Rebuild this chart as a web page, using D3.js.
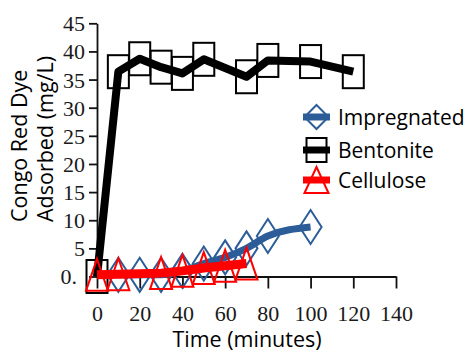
<!DOCTYPE html>
<html><head><meta charset="utf-8">
<script src="https://cdn.jsdelivr.net/npm/d3@7"></script>
<style>
html,body{margin:0;padding:0;background:#fff;}
svg{display:block;}
</style></head>
<body>
<svg id="chart" width="466" height="354"></svg>
<script>
// ---- data ----
const xTicks = [0, 20, 40, 60, 80, 100, 120, 140];
const yTicks = [0, 5, 10, 15, 20, 25, 30, 35, 40, 45];
const bentoniteTime = [0, 10, 20, 30, 40, 50, 70, 80, 100, 120];
const bentoniteValue = [0, 36.4, 38.7, 37.2, 36.1, 38.6, 35.5, 38.4, 38.2, 36.4];
const impregnatedTime = [10, 20, 30, 40, 50, 60, 70, 80, 100];
const impregnatedValue = [0.3, 0.3, 0.3, 1.0, 2.3, 3.4, 5.0, 7.2, 8.8];
const celluloseTime = [0, 10, 30, 40, 50, 60, 70];
const celluloseValue = [0.3, 0.4, 0.6, 1.0, 1.5, 1.9, 2.3];
const seriesNames = ["Impregnated", "Bentonite", "Cellulose"];
const xTitle = "Time (minutes)";
const yTitle = ["Congo Red Dye", "Adsorbed (mg/L)"];

const BLUE = "#2c5d98", RED = "#ff0000", BLACK = "#000000";
const svg = d3.select("#chart");
const x = d3.scaleLinear().domain([0, 140]).range([97, 396]);
const y = d3.scaleLinear().domain([0, 45]).range([276.5, 23.3]);

// axes
const xAxis = svg.append("g").attr("transform", `translate(0,${y(0)})`)
  .call(d3.axisBottom(x).tickValues(xTicks).tickSize(12).tickSizeOuter(0).tickPadding(4));
const yAxis = svg.append("g").attr("transform", `translate(${x(0)},0)`)
  .call(d3.axisLeft(y).tickValues(yTicks).tickSize(8).tickSizeOuter(0).tickPadding(4)
    .tickFormat(d => d === 0 ? "0." : d));
[xAxis, yAxis].forEach(g => {
  g.selectAll("path,line").attr("stroke", "#111").attr("stroke-width", 1.8);
  g.selectAll("text").attr("font-family", "'Liberation Serif', 'Times New Roman', serif")
    .attr("font-size", 22).attr("fill", "#1a1a1a");
});
xAxis.selectAll("text").attr("y", 0).attr("dy", 0).attr("transform", "translate(0,44)");
yAxis.selectAll("text").attr("dy", "0.34em");
yAxis.selectAll(".tick").filter(d => d === 0).select("text").attr("x", -20);

const titleFont = "'Open Sans', 'Noto Sans', sans-serif";
// titles
svg.append("text").attr("x", 247).attr("y", 347).attr("text-anchor", "middle")
  .attr("font-family", titleFont).attr("font-size", 21.5).attr("font-weight", 500)
  .attr("fill", "#000").text(xTitle);
yTitle.forEach((t, i) => {
  svg.append("text").attr("transform", `translate(${27 + i * 26},222) rotate(-90)`)
    .attr("text-anchor", "start").attr("font-family", titleFont).attr("font-size", 21.5)
    .attr("font-weight", 500).attr("fill", "#000").text(t);
});

// markers
function square(g, cx, cy, color) {
  g.append("rect").attr("x", cx - 10.5).attr("y", cy - 16.5).attr("width", 21).attr("height", 33)
    .attr("fill", "none").attr("stroke", color).attr("stroke-width", 2);
}
function diamond(g, cx, cy, color) {
  g.append("path").attr("d", `M${cx},${cy - 17}L${cx + 11},${cy}L${cx},${cy + 17}L${cx - 11},${cy}Z`)
    .attr("fill", "none").attr("stroke", color).attr("stroke-width", 2);
}
function triangle(g, cx, cy, color) {
  g.append("path").attr("d", `M${cx},${cy - 16}L${cx + 11},${cy + 16}L${cx - 11},${cy + 16}Z`)
    .attr("fill", "none").attr("stroke", color).attr("stroke-width", 2);
}

function drawSeries(times, values, color, width, marker, curve) {
  const g = svg.append("g");
  const pts = times.map((t, i) => [t, values[i]]);
  g.append("path").datum(pts)
    .attr("d", d3.line().x(d => x(d[0])).y(d => y(d[1])).curve(curve))
    .attr("fill", "none").attr("stroke", color).attr("stroke-width", width)
    .attr("stroke-linejoin", "round");
  pts.forEach(p => marker(g, x(p[0]), y(p[1]), color));
}
drawSeries(bentoniteTime, bentoniteValue, BLACK, 8, square, d3.curveLinear);
drawSeries(impregnatedTime, impregnatedValue, BLUE, 7, diamond, d3.curveMonotoneX);
drawSeries(celluloseTime, celluloseValue, RED, 9, triangle, d3.curveLinear);

// legend
const legend = svg.append("g");
const legendRows = [
  {name: seriesNames[0], color: BLUE, y: 117, type: "diamond"},
  {name: seriesNames[1], color: BLACK, y: 150, type: "square"},
  {name: seriesNames[2], color: RED, y: 180, type: "triangle"}
];
legendRows.forEach(r => {
  const cx = 316.5;
  legend.append("line").attr("x1", 303).attr("x2", 330).attr("y1", r.y).attr("y2", r.y)
    .attr("stroke", r.color).attr("stroke-width", 7);
  if (r.type === "diamond") {
    legend.append("path").attr("d", `M${cx},${r.y - 12}L${cx + 12},${r.y}L${cx},${r.y + 12}L${cx - 12},${r.y}Z`)
      .attr("fill", "none").attr("stroke", r.color).attr("stroke-width", 2);
  } else if (r.type === "square") {
    legend.append("rect").attr("x", cx - 10).attr("y", r.y - 12).attr("width", 20).attr("height", 24)
      .attr("fill", "none").attr("stroke", r.color).attr("stroke-width", 2);
  } else {
    legend.append("path").attr("d", `M${cx},${r.y - 13}L${cx + 12},${r.y + 13}L${cx - 12},${r.y + 13}Z`)
      .attr("fill", "none").attr("stroke", r.color).attr("stroke-width", 2);
  }
  legend.append("text").attr("x", 338).attr("y", r.y).attr("dy", "0.36em")
    .attr("font-family", titleFont).attr("font-size", 21).attr("font-weight", 500)
    .attr("fill", "#000").text(r.name);
});
</script>
</body></html>
